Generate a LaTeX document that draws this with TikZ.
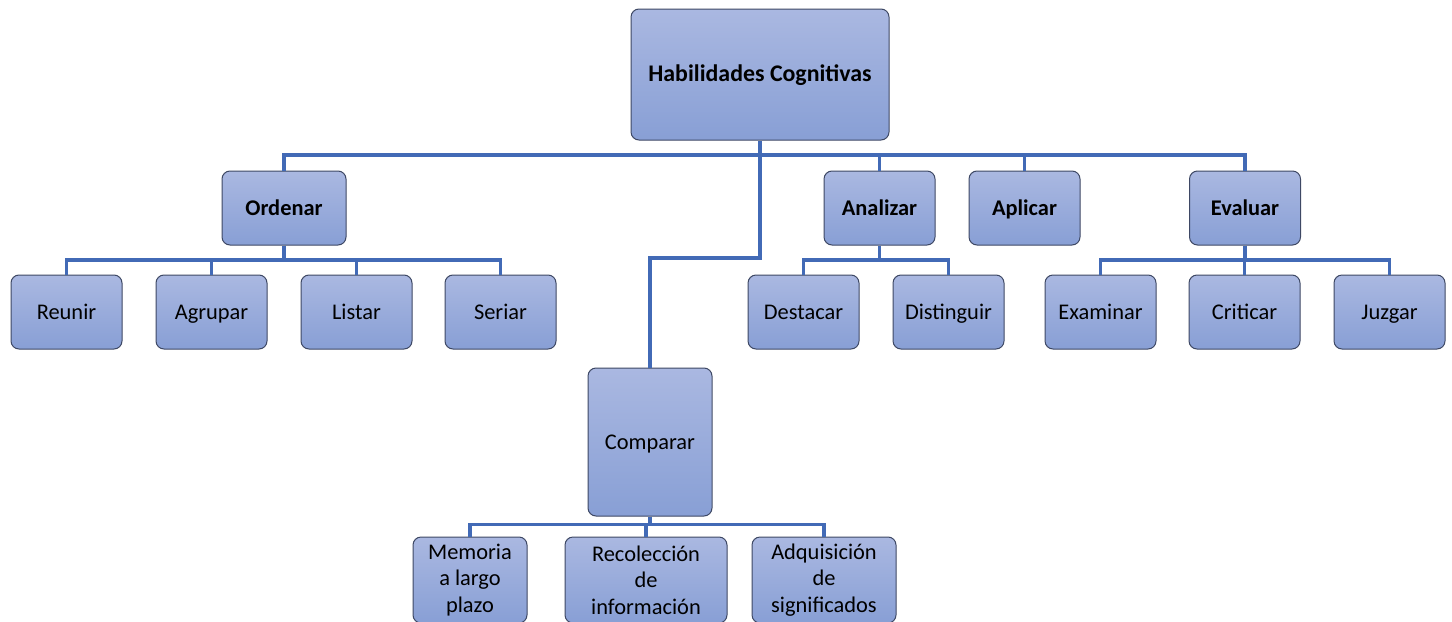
\documentclass[tikz,border=0pt]{standalone}
\usepackage{fontspec}
\setmainfont{Carlito}
\definecolor{boxtop}{RGB}{170,184,225}
\definecolor{boxbot}{RGB}{136,159,213}
\definecolor{boxline}{RGB}{62,72,100}
\definecolor{linkblue}{RGB}{66,106,182}
\tikzset{every picture/.style={line width=0.75pt}}
\tikzset{
  box/.style={draw=boxline, rounded corners=6pt, top color=boxtop, bottom color=boxbot,
    align=center, inner sep=2pt, font=\fontsize{16.8}{20}\selectfont,
    minimum width=83.25pt, minimum height=55.5pt},
  leaf/.style={box, text height=14pt, text depth=3.5pt},
  head/.style={leaf, font=\fontsize{16.8}{20}\selectfont\bfseries},
  link/.style={draw=linkblue, line width=2.3pt}
}

\begin{document}
\begin{tikzpicture}[x=0.75pt,y=0.75pt,yscale=-1,xscale=1]
\clip (0,0) rectangle (1452,621);
% Root
\node[head, font=\fontsize{17.9}{20}\selectfont\bfseries, minimum width=193.5pt, minimum height=98.25pt] (root) at (760,74.5) {Habilidades Cognitivas};
% Second level
\node[head, minimum width=93pt] (ord) at (284,208) {Ordenar};
\node[head] (ana) at (879.5,208) {Analizar};
\node[head] (apl) at (1024.5,208) {Aplicar};
\node[head] (eva) at (1245,208) {Evaluar};
\node[leaf, minimum width=93pt, minimum height=111pt] (cmp) at (650,442) {Comparar};
% Third level
\node[leaf] (reu) at (66.5,312) {Reunir};
\node[leaf] (agr) at (211.5,312) {Agrupar};
\node[leaf] (lis) at (356.5,312) {Listar};
\node[leaf] (ser) at (500.5,312) {Seriar};
\node[leaf] (des) at (803.5,312) {Destacar};
\node[leaf] (dis) at (948.5,312) {Distinguir};
\node[leaf] (exa) at (1100.5,312) {Examinar};
\node[leaf] (cri) at (1244.5,312) {Criticar};
\node[leaf] (juz) at (1389.5,312) {Juzgar};
\node[box, minimum width=85.5pt, minimum height=64.5pt] (mem) at (470,580) {Memoria\\a largo\\plazo};
\node[box, minimum width=121.5pt, minimum height=64.5pt] (rec) at (646,580) {Recolección\\de\\información};
\node[box, minimum width=108pt, minimum height=64.5pt] (adq) at (824,580) {Adquisición\\de\\significados};
% Connectors
\coordinate (bus) at (760,155);
\coordinate (bend) at (760,258);
\draw[link] (root.south) -- (bend) -| (cmp.north);
\foreach \n in {ord,ana,apl,eva}
  \draw[link] (bus) -| (\n.north);
\foreach \n in {reu,agr,lis,ser}
  \draw[link] (ord.south) -- ++(0,14.5) -| (\n.north);
\foreach \n in {des,dis}
  \draw[link] (ana.south) -- ++(0,14.5) -| (\n.north);
\foreach \n in {exa,cri,juz}
  \draw[link] (eva.south) -- ++(0,14.5) -| (\n.north);
\foreach \n in {mem,rec,adq}
  \draw[link] (cmp.south) -- ++(0,8) -| (\n.north);
\end{tikzpicture}
\end{document}
